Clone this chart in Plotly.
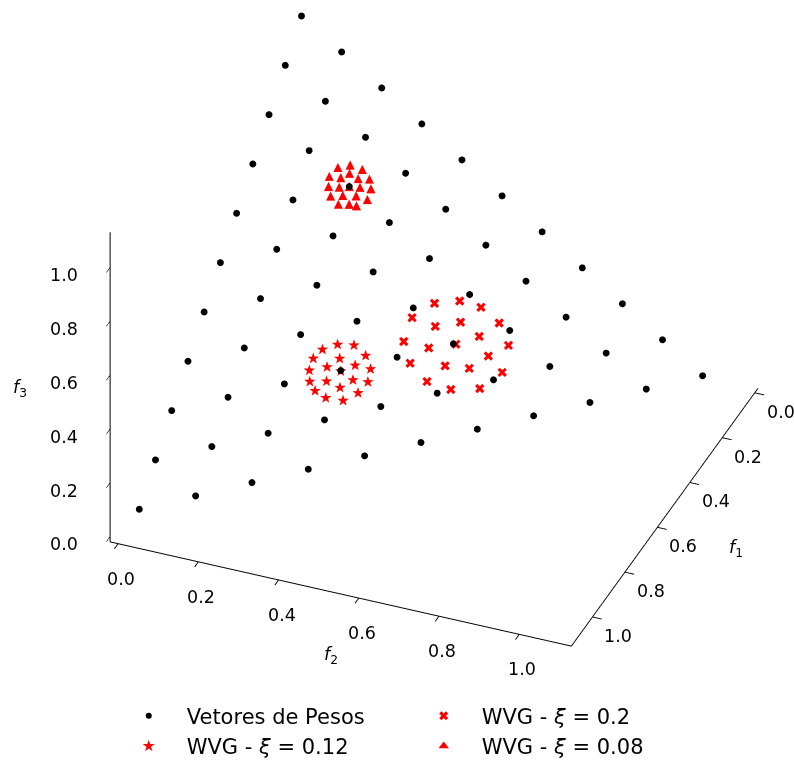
import plotly.graph_objects as go

# ---- Weight vectors (simplex lattice, H = 10) ----
W_F1 = [0.0, 0.0, 0.0, 0.0, 0.0, 0.0, 0.0, 0.0, 0.0, 0.0, 0.0,
        0.1, 0.1, 0.1, 0.1, 0.1, 0.1, 0.1, 0.1, 0.1, 0.1,
        0.2, 0.2, 0.2, 0.2, 0.2, 0.2, 0.2, 0.2, 0.2,
        0.3, 0.3, 0.3, 0.3, 0.3, 0.3, 0.3, 0.3,
        0.4, 0.4, 0.4, 0.4, 0.4, 0.4, 0.4,
        0.5, 0.5, 0.5, 0.5, 0.5, 0.5,
        0.6, 0.6, 0.6, 0.6, 0.6,
        0.7, 0.7, 0.7, 0.7,
        0.8, 0.8, 0.8,
        0.9, 0.9,
        1.0]
W_F2 = [0.0, 0.1, 0.2, 0.3, 0.4, 0.5, 0.6, 0.7, 0.8, 0.9, 1.0,
        0.0, 0.1, 0.2, 0.3, 0.4, 0.5, 0.6, 0.7, 0.8, 0.9,
        0.0, 0.1, 0.2, 0.3, 0.4, 0.5, 0.6, 0.7, 0.8,
        0.0, 0.1, 0.2, 0.3, 0.4, 0.5, 0.6, 0.7,
        0.0, 0.1, 0.2, 0.3, 0.4, 0.5, 0.6,
        0.0, 0.1, 0.2, 0.3, 0.4, 0.5,
        0.0, 0.1, 0.2, 0.3, 0.4,
        0.0, 0.1, 0.2, 0.3,
        0.0, 0.1, 0.2,
        0.0, 0.1,
        0.0]
W_F3 = [1.0, 0.9, 0.8, 0.7, 0.6, 0.5, 0.4, 0.3, 0.2, 0.1, 0.0,
        0.9, 0.8, 0.7, 0.6, 0.5, 0.4, 0.3, 0.2, 0.1, 0.0,
        0.8, 0.7, 0.6, 0.5, 0.4, 0.3, 0.2, 0.1, 0.0,
        0.7, 0.6, 0.5, 0.4, 0.3, 0.2, 0.1, 0.0,
        0.6, 0.5, 0.4, 0.3, 0.2, 0.1, 0.0,
        0.5, 0.4, 0.3, 0.2, 0.1, 0.0,
        0.4, 0.3, 0.2, 0.1, 0.0,
        0.3, 0.2, 0.1, 0.0,
        0.2, 0.1, 0.0,
        0.1, 0.0,
        0.0]

# ---- WVG, xi = 0.2 (around (0.3, 0.5, 0.2)) ----
X20_F1 = [0.263, 0.224, 0.204, 0.317, 0.256, 0.203, 0.298, 0.252, 0.366, 0.297,
          0.225, 0.341, 0.270, 0.391, 0.346, 0.316, 0.276, 0.396, 0.375, 0.333]
X20_F2 = [0.438, 0.485, 0.530, 0.404, 0.500, 0.575, 0.454, 0.545, 0.403, 0.505,
          0.607, 0.455, 0.575, 0.429, 0.498, 0.546, 0.612, 0.473, 0.524, 0.579]
X20_F3 = [0.299, 0.291, 0.266, 0.279, 0.244, 0.222, 0.248, 0.203, 0.231, 0.198,
          0.168, 0.204, 0.155, 0.180, 0.156, 0.138, 0.112, 0.131, 0.101, 0.088]

# ---- WVG, xi = 0.12 (around (0.5, 0.3, 0.2)) ----
X12_F1 = [0.463, 0.441, 0.492, 0.441, 0.519, 0.482, 0.513, 0.471, 0.543, 0.455,
          0.560, 0.536, 0.497, 0.479, 0.567, 0.527, 0.510, 0.563, 0.543, 0.500]
X12_F2 = [0.277, 0.309, 0.251, 0.338, 0.239, 0.290, 0.271, 0.324, 0.239, 0.356,
          0.247, 0.279, 0.329, 0.359, 0.263, 0.309, 0.347, 0.288, 0.323, 0.300]
X12_F3 = [0.260, 0.250, 0.257, 0.221, 0.242, 0.228, 0.216, 0.205, 0.218, 0.189,
          0.193, 0.185, 0.174, 0.162, 0.170, 0.164, 0.143, 0.149, 0.134, 0.200]

# ---- WVG, xi = 0.08 (around (0.2, 0.2, 0.6)) ----
X08_F1 = [0.186, 0.165, 0.155, 0.212, 0.198, 0.179, 0.175, 0.160, 0.229, 0.215,
          0.186, 0.173, 0.241, 0.223, 0.205, 0.195, 0.243, 0.228, 0.220, 0.200]
X08_F2 = [0.166, 0.188, 0.214, 0.155, 0.178, 0.192, 0.212, 0.234, 0.160, 0.181,
          0.221, 0.243, 0.170, 0.193, 0.219, 0.243, 0.190, 0.211, 0.226, 0.200]
X08_F3 = [0.648, 0.647, 0.631, 0.633, 0.624, 0.629, 0.613, 0.606, 0.611, 0.604,
          0.593, 0.584, 0.589, 0.584, 0.576, 0.562, 0.567, 0.561, 0.554, 0.600]

TICKS = [0.0, 0.2, 0.4, 0.6, 0.8, 1.0]
TICK_LABELS = ["0.0", "0.2", "0.4", "0.6", "0.8", "1.0"]
AXIS_TITLES = ["<i>f</i><sub>1</sub>", "<i>f</i><sub>2</sub>", "<i>f</i><sub>3</sub>"]
LABELS = ["Vetores de Pesos", "WVG - <i>ξ</i> = 0.2", "WVG - <i>ξ</i> = 0.12", "WVG - <i>ξ</i> = 0.08"]

FONT = "DejaVu Sans"
LO, HI = -0.02, 1.13

fig = go.Figure()

fig.add_trace(go.Scatter3d(
    x=X20_F1, y=X20_F2, z=X20_F3, mode="text", name=LABELS[1], showlegend=False,
    text=["✖"] * len(X20_F1), textposition="middle center",
    textfont=dict(family=FONT, size=14, color="red"), hoverinfo="skip"))
fig.add_trace(go.Scatter3d(
    x=X12_F1, y=X12_F2, z=X12_F3, mode="text", name=LABELS[2], showlegend=False,
    text=["★"] * len(X12_F1), textposition="middle center",
    textfont=dict(family=FONT, size=15, color="red"), hoverinfo="skip"))
fig.add_trace(go.Scatter3d(
    x=X08_F1, y=X08_F2, z=X08_F3, mode="text", name=LABELS[3], showlegend=False,
    text=["▲"] * len(X08_F1), textposition="middle center",
    textfont=dict(family=FONT, size=12, color="red"), hoverinfo="skip"))
fig.add_trace(go.Scatter3d(
    x=W_F1, y=W_F2, z=W_F3, mode="markers", name=LABELS[0], showlegend=False,
    marker=dict(symbol="circle", size=4, color="black", line=dict(width=0)), hoverinfo="skip"))

# legend entries (row-wise order to match the 2-column legend)
leg_markers = [
    dict(symbol="circle", size=6, color="black"),
    dict(symbol="x", size=8, color="red", line=dict(width=0)),
    dict(symbol="star", size=9, color="red", line=dict(width=0)),
    dict(symbol="triangle-up", size=9, color="red", line=dict(width=0)),
]
for lab, mk in zip(LABELS, leg_markers):
    fig.add_trace(go.Scatter(x=[None], y=[None], mode="markers", name=lab, marker=mk))

def axis():
    return dict(
        range=[LO, HI], autorange=False,
        showgrid=False, showbackground=False, zeroline=False, showspikes=False,
        showline=True, linecolor="black", linewidth=2,
        ticks="outside", tickcolor="black", ticklen=10, tickwidth=2,
        tickvals=TICKS, showticklabels=False,
        title=dict(text=""),
    )

# tick labels and axis titles as scene annotations anchored on the axis lines
ann = []
tfont = dict(family=FONT, size=17.5, color="black")
for t, lab in zip(TICKS, TICK_LABELS):
    ann.append(dict(x=t, y=HI, z=LO, text=lab, showarrow=False, font=tfont, xshift=26, yshift=-19))
    ann.append(dict(x=HI, y=t, z=LO, text=lab, showarrow=False, font=tfont, xshift=3, yshift=-35))
    ann.append(dict(x=HI, y=LO, z=t, text=lab, showarrow=False, font=tfont, xshift=-46, yshift=-8))
ann.append(dict(x=0.6, y=HI, z=LO, text=AXIS_TITLES[0], showarrow=False, font=tfont, xshift=79, yshift=-21))
ann.append(dict(x=HI, y=0.5, z=LO, text=AXIS_TITLES[1], showarrow=False, font=tfont, xshift=12, yshift=-67))
ann.append(dict(x=HI, y=LO, z=0.5, text=AXIS_TITLES[2], showarrow=False, font=tfont, xshift=-90, yshift=13))

Z = 1.47
DIR = (0.769, 0.311, 0.559)
CEN = (0.084, -0.084, -0.069)
L = 2.0

fig.update_layout(
    width=794, height=767,
    margin=dict(l=0, r=0, t=0, b=0),
    paper_bgcolor="white", plot_bgcolor="white",
    font=dict(family=FONT, color="black"),
    xaxis=dict(visible=False), yaxis=dict(visible=False),
    scene=dict(
        domain=dict(x=[0, 1], y=[0.1, 1]),
        xaxis=axis(), yaxis=axis(), zaxis=axis(),
        aspectmode="manual", aspectratio=dict(x=Z, y=Z, z=0.75 * Z),
        camera=dict(eye=dict(x=CEN[0] + L * DIR[0], y=CEN[1] + L * DIR[1], z=CEN[2] + L * DIR[2]),
                    up=dict(x=0, y=0, z=1),
                    center=dict(x=CEN[0], y=CEN[1], z=CEN[2]),
                    projection=dict(type="orthographic")),
        annotations=ann,
    ),
    legend=dict(orientation="h", x=0.511, xanchor="center", y=0.075, yanchor="top",
                entrywidth=214, font=dict(family=FONT, size=21, color="black"),
                itemwidth=66, bgcolor="rgba(0,0,0,0)"),
)

fig.write_html("out.html")
